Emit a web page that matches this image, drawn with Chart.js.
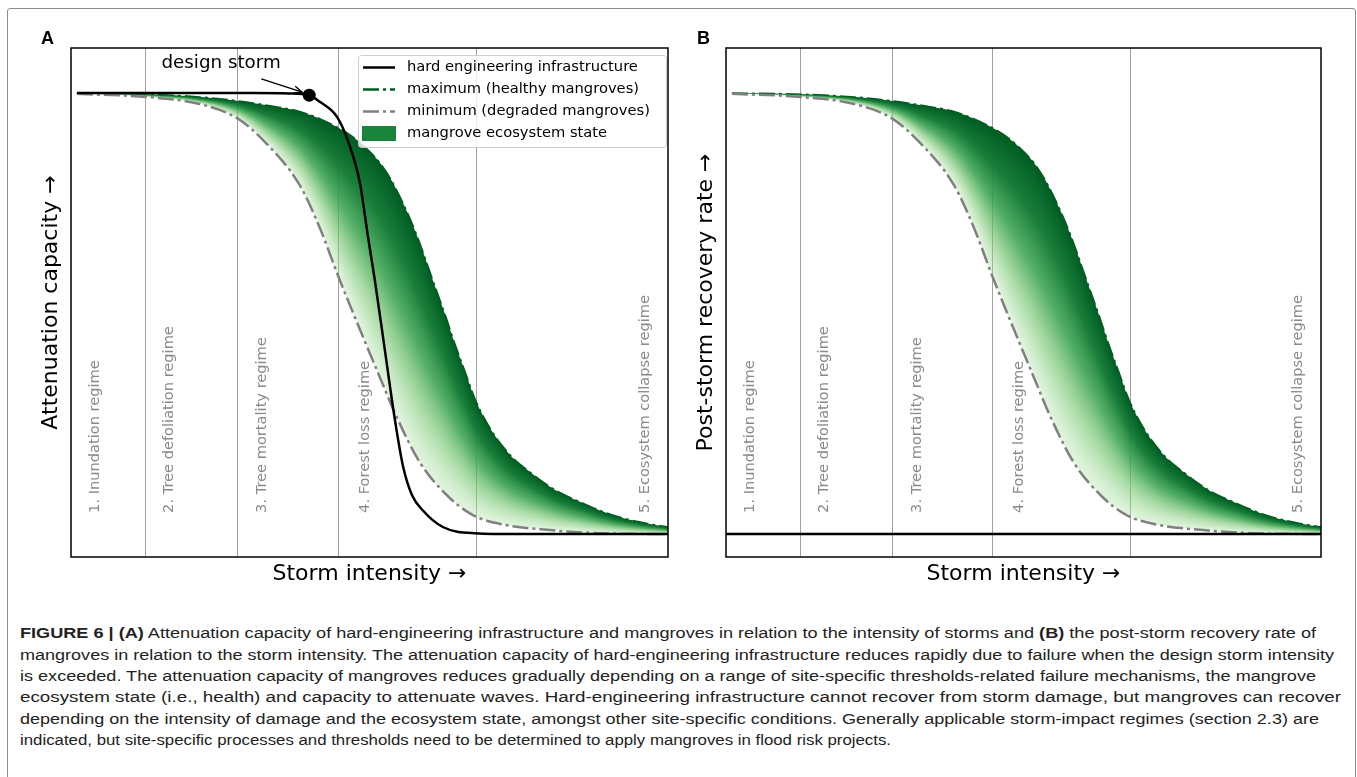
<!DOCTYPE html>
<html><head><meta charset="utf-8">
<script src="https://cdn.jsdelivr.net/npm/chart.js@4.4.1/dist/chart.umd.min.js"></script>
<style>
html,body{margin:0;padding:0;background:#fff;width:1357px;height:777px;overflow:hidden;position:relative;}
#frame{position:absolute;left:7px;top:8px;width:1347px;height:800px;border:1px solid #8c8c8c;border-radius:3px;}
.wrap{position:absolute;top:0;height:600px;}
.letter{position:absolute;font:bold 18px "Liberation Sans",Arial,sans-serif;color:#000;line-height:18px;}
.cap{position:absolute;left:20px;white-space:nowrap;font:15.5px "Liberation Sans",Arial,sans-serif;color:#222;transform-origin:0 50%;line-height:20px;}
</style></head><body>
<div id="frame"></div>
<div class="wrap" style="left:0;width:690px"><canvas id="cA"></canvas></div>
<div class="wrap" style="left:655px;width:688px"><canvas id="cB"></canvas></div>
<div class="letter" style="left:41px;top:29px">A</div>
<div class="letter" style="left:697px;top:29px">B</div>
<div class="cap" data-w="1296" style="top:623px"><b>FIGURE 6 | (A)</b> Attenuation capacity of hard-engineering infrastructure and mangroves in relation to the intensity of storms and <b>(B)</b> the post-storm recovery rate of</div>
<div class="cap" data-w="1314" style="top:645px">mangroves in relation to the storm intensity. The attenuation capacity of hard-engineering infrastructure reduces rapidly due to failure when the design storm intensity</div>
<div class="cap" data-w="1296" style="top:666px">is exceeded. The attenuation capacity of mangroves reduces gradually depending on a range of site-specific thresholds-related failure mechanisms, the mangrove</div>
<div class="cap" data-w="1321" style="top:687px">ecosystem state (i.e., health) and capacity to attenuate waves. Hard-engineering infrastructure cannot recover from storm damage, but mangroves can recover</div>
<div class="cap" data-w="1299" style="top:709px">depending on the intensity of damage and the ecosystem state, amongst other site-specific conditions. Generally applicable storm-impact regimes (section 2.3) are</div>
<div class="cap" data-w="871" style="top:730px">indicated, but site-specific processes and thresholds need to be determined to apply mangroves in flood risk projects.</div>
<script>
// ---------------- DATA ----------------
const regimeLabels = ['1. Inundation regime', '2. Tree defoliation regime', '3. Tree mortality regime', '4. Forest loss regime', '5. Ecosystem collapse regime'];
const regimeBounds = [1.16, 2.72, 4.43, 6.76];
const legendLabels = ['hard engineering infrastructure', 'maximum (healthy mangroves)', 'minimum (degraded mangroves)', 'mangrove ecosystem state'];

const hardX = [0, 1.5, 3.0, 3.6, 3.93, 4.11, 4.40, 4.59, 4.79, 4.92, 5.04, 5.21, 5.38, 5.52, 5.67, 5.85, 6.19, 6.73, 7.5, 8.5, 10];
const hardY = [1.0, 1.0, 1.0, 0.999, 0.995, 0.980, 0.946, 0.890, 0.795, 0.678, 0.576, 0.417, 0.259, 0.152, 0.088, 0.054, 0.016, 0.002, 0, 0, 0];

const maxX = [0, 1.24, 2.08, 2.73, 3.27, 3.77, 4.20, 4.62, 4.87, 5.13, 5.30, 5.46, 5.63, 5.80, 6.02, 6.23, 6.40, 6.57, 6.73, 6.99, 7.33, 7.66, 8.09, 8.51, 9.02, 9.53, 10.0];
const maxY = [1.000, 0.997, 0.991, 0.982, 0.971, 0.958, 0.936, 0.905, 0.878, 0.841, 0.807, 0.766, 0.717, 0.660, 0.576, 0.497, 0.429, 0.367, 0.308, 0.240, 0.179, 0.141, 0.100, 0.073, 0.045, 0.027, 0.016];

const minX = [0, 1.17, 2.08, 2.71, 3.15, 3.77, 4.11, 4.42, 4.79, 5.13, 5.38, 5.80, 6.26, 6.70, 7.16, 8.00, 8.85, 10.0];
const minY = [0.998, 0.991, 0.975, 0.943, 0.893, 0.791, 0.694, 0.585, 0.463, 0.354, 0.274, 0.163, 0.088, 0.043, 0.023, 0.009, 0.002, 0.0];

const hardBX = [-0.1, 10];
const hardBY = [0, 0];

const designStorm = [3.93, 0.995];

// ---------------- helpers ----------------
const toPts = (xs, ys) => xs.map((x, i) => ({x: x, y: ys[i]}));
const FONT = 'DejaVu Sans';
const DASHDOT = [16, 4, 3, 4];
const GREEN_DARK = '#005c1f';
const GREY = '#808080';

function densePath(meta) {
  const pts = meta.data, out = [];
  for (let i = 0; i < pts.length; i++) {
    const p = pts[i];
    if (i === 0) { out.push([p.x, p.y]); continue; }
    const a = pts[i - 1];
    const c1x = a.cp2x ?? a.x, c1y = a.cp2y ?? a.y, c2x = p.cp1x ?? p.x, c2y = p.cp1y ?? p.y;
    for (let k = 1; k <= 20; k++) {
      const t = k / 20, u = 1 - t;
      out.push([u*u*u*a.x + 3*u*u*t*c1x + 3*u*t*t*c2x + t*t*t*p.x,
                u*u*u*a.y + 3*u*u*t*c1y + 3*u*t*t*c2y + t*t*t*p.y]);
    }
  }
  return out;
}
function interp(path, x) {
  if (x <= path[0][0]) return path[0][1];
  for (let i = 1; i < path.length; i++) {
    if (x <= path[i][0]) {
      const a = path[i-1], b = path[i];
      const t = (b[0] - a[0]) === 0 ? 0 : (x - a[0]) / (b[0] - a[0]);
      return a[1] + t * (b[1] - a[1]);
    }
  }
  return path[path.length - 1][1];
}

function drawBand(chart, o) {
  const ctx = chart.ctx, ca = chart.chartArea;
  const um = chart.getDatasetMeta(o.upper), lm = chart.getDatasetMeta(o.lower);
  um.dataset.updateControlPoints(ca, 'x');
  lm.dataset.updateControlPoints(ca, 'x');
  const up = densePath(um), lo = densePath(lm);
  const off = document.createElement('canvas');
  off.width = chart.canvas.width; off.height = chart.canvas.height;
  const oc = off.getContext('2d');
  const x0 = Math.floor(Math.min(up[0][0], lo[0][0])) - 1, x1 = Math.ceil(Math.max(up[up.length-1][0], lo[lo.length-1][0])) + 1;
  for (let px = x0; px <= x1; px++) {
    const yt = interp(up, px + 0.5), yb = interp(lo, px + 0.5);
    const a = Math.min(yt, yb) - 3, b = Math.max(yt, yb) + 3;
    const g = oc.createLinearGradient(0, yt, 0, Math.max(yb, yt + 0.5));
    g.addColorStop(0, 'rgba(0,92,34,1)');
    g.addColorStop(0.25, 'rgba(18,122,52,0.97)');
    g.addColorStop(0.5, 'rgba(58,163,78,0.86)');
    g.addColorStop(0.75, 'rgba(118,198,112,0.6)');
    g.addColorStop(1, 'rgba(170,225,160,0.33)');
    oc.fillStyle = g;
    oc.fillRect(px, a, 1, b - a);
  }
  ctx.save();
  ctx.beginPath();
  ctx.rect(ca.left, ca.top, ca.right - ca.left, ca.bottom - ca.top);
  ctx.clip();
  ctx.beginPath();
  ctx.moveTo(up[0][0], up[0][1]);
  for (let i = 1; i < up.length; i++) ctx.lineTo(up[i][0], up[i][1]);
  for (let i = lo.length - 1; i >= 0; i--) ctx.lineTo(lo[i][0], lo[i][1]);
  ctx.closePath();
  ctx.fillStyle = ctx.createPattern(off, 'no-repeat');
  ctx.fill();
  ctx.restore();
}

const decor = {
  id: 'decor',
  beforeDatasetsDraw(chart, args, o) {
    const ctx = chart.ctx, xs = chart.scales.x, ys = chart.scales.y;
    ctx.save();
    ctx.font = '14.6px "' + FONT + '"';
    ctx.fillStyle = '#8a8a8a';
    ctx.textAlign = 'left';
    ctx.textBaseline = 'middle';
    regimeLabels.forEach((t, i) => {
      const px = xs.getPixelForValue(o.labelX[i]), py = ys.getPixelForValue(o.labelY);
      ctx.save();
      ctx.translate(px, py);
      ctx.rotate(-Math.PI / 2);
      ctx.fillText(t, 0, 0);
      ctx.restore();
    });
    ctx.restore();
  },
  beforeDatasetDraw(chart, args, o) {
    if (args.index === o.lower) drawBand(chart, o);
  },
  afterDatasetsDraw(chart, args, o) {
    const ctx = chart.ctx, ca = chart.chartArea, xs = chart.scales.x, ys = chart.scales.y;
    ctx.save();
    ctx.strokeStyle = '#000';
    ctx.lineWidth = 1.5;
    ctx.strokeRect(ca.left, ca.top, ca.right - ca.left, ca.bottom - ca.top);
    ctx.restore();
    if (o.annotation) {
      const an = o.annotation;
      ctx.save();
      ctx.font = '18.3px "' + FONT + '"';
      ctx.fillStyle = '#000';
      ctx.textAlign = 'center';
      ctx.textBaseline = 'middle';
      ctx.fillText(an.text, xs.getPixelForValue(an.textAt[0]), ys.getPixelForValue(an.textAt[1]));
      const tx = xs.getPixelForValue(an.from[0]), ty = ys.getPixelForValue(an.from[1]);
      const hx = xs.getPixelForValue(an.to[0]), hy = ys.getPixelForValue(an.to[1]);
      ctx.strokeStyle = '#000';
      ctx.lineWidth = 1.4;
      ctx.beginPath(); ctx.moveTo(tx, ty); ctx.lineTo(hx, hy); ctx.stroke();
      const ang = Math.atan2(hy - ty, hx - tx), L = 9;
      ctx.beginPath();
      ctx.moveTo(hx - L * Math.cos(ang - 0.4), hy - L * Math.sin(ang - 0.4));
      ctx.lineTo(hx, hy);
      ctx.lineTo(hx - L * Math.cos(ang + 0.4), hy - L * Math.sin(ang + 0.4));
      ctx.stroke();
      ctx.restore();
    }
    if (o.legend) {
      const lg = o.legend;
      const bx = ca.right - lg.offRight - lg.w, by = ca.top + lg.offTop;
      ctx.save();
      ctx.beginPath();
      ctx.roundRect(bx + 0.5, by + 0.5, lg.w, lg.h, 3);
      ctx.fillStyle = 'rgba(255,255,255,0.8)';
      ctx.fill();
      ctx.strokeStyle = '#cccccc';
      ctx.lineWidth = 1;
      ctx.stroke();
      ctx.font = '14.7px "' + FONT + '"';
      ctx.textBaseline = 'middle';
      ctx.textAlign = 'left';
      legendLabels.forEach((t, i) => {
        const ry = by + lg.firstRow + i * lg.rowGap;
        const sx = bx + 5, ex = bx + 37;
        if (i === 3) {
          ctx.fillStyle = '#1b843c';
          ctx.fillRect(sx - 1, ry - 7.5, ex - sx + 2, 15);
        } else {
          ctx.beginPath();
          ctx.setLineDash(i === 0 ? [] : DASHDOT);
          ctx.strokeStyle = i === 0 ? '#000' : (i === 1 ? GREEN_DARK : GREY);
          ctx.lineWidth = 2.5;
          ctx.moveTo(sx, ry); ctx.lineTo(ex, ry); ctx.stroke();
          ctx.setLineDash([]);
        }
        ctx.fillStyle = '#000';
        ctx.fillText(t, bx + 49, ry);
      });
      ctx.restore();
    }
  }
};

function lineDs(label, pts, color, dash, order, width) {
  return {label: label, data: pts, borderColor: color, borderWidth: width || 2.5, borderDash: dash,
          pointRadius: 0, cubicInterpolationMode: 'monotone', fill: false, order: order};
}

function makeChart(id, yTitle, datasets, decorOpts) {
  return new Chart(document.getElementById(id), {
    type: 'line',
    data: {datasets: datasets},
    plugins: [decor],
    options: {
      responsive: true, maintainAspectRatio: false, animation: false, events: [],
      layout: {padding: {top: 48, right: 22, left: 0, bottom: 0}},
      plugins: {legend: {display: false}, tooltip: {enabled: false}, decor: decorOpts},
      scales: {
        x: {type: 'linear', min: -0.1, max: 10,
            afterBuildTicks: s => { s.ticks = regimeBounds.map(v => ({value: v})); },
            afterFit: s => { s.height = 43; },
            ticks: {display: false},
            grid: {display: true, color: '#a0a0a0', lineWidth: 1, drawTicks: false},
            border: {display: false},
            title: {display: true, text: 'Storm intensity \u2192', color: '#000',
                    font: {family: FONT, size: 22, lineHeight: 1.2}, padding: {top: 0, bottom: 12.8}}},
        y: {type: 'linear', min: -0.052, max: 1.102,
            afterFit: s => { s.width = 71; },
            ticks: {display: false},
            grid: {display: false},
            border: {display: false},
            title: {display: true, text: yTitle, color: '#000',
                    font: {family: FONT, size: 22, lineHeight: 1.2}, padding: {top: 37.8, bottom: 0}}}
      }
    }
  });
}

const labelOpts = {labelX: [0.31, 1.56, 3.14, 4.87, 9.61], labelY: 0.048};

makeChart('cA', 'Attenuation capacity \u2192', [
  {label: 'design storm', data: [{x: designStorm[0], y: designStorm[1]}], showLine: false,
   pointRadius: 6.5, pointBackgroundColor: '#000', pointBorderWidth: 0, order: 0},
  lineDs(legendLabels[0], toPts(hardX, hardY), '#000', [], 1),
  lineDs(legendLabels[2], toPts(minX, minY), GREY, DASHDOT, 2),
  lineDs(legendLabels[1], toPts(maxX, maxY), GREEN_DARK, DASHDOT, 3, 1.6)
], Object.assign({upper: 3, lower: 2,
  annotation: {text: 'design storm', textAt: [2.44, 1.068], from: [3.12, 1.032], to: [3.81, 1.002]},
  legend: {w: 308, h: 92, offRight: 2, offTop: 7, firstRow: 12.5, rowGap: 22}}, labelOpts));

makeChart('cB', 'Post-storm recovery rate \u2192', [
  lineDs(legendLabels[0], toPts(hardBX, hardBY), '#000', [], 0),
  lineDs(legendLabels[2], toPts(minX, minY), GREY, DASHDOT, 1),
  lineDs(legendLabels[1], toPts(maxX, maxY), GREEN_DARK, DASHDOT, 2, 1.6)
], Object.assign({upper: 2, lower: 1}, labelOpts));

document.querySelectorAll('.cap').forEach(el => {
  const w = el.getBoundingClientRect().width;
  el.style.transform = 'scaleX(' + (+el.dataset.w / w) + ')';
});
</script>
</body></html>
